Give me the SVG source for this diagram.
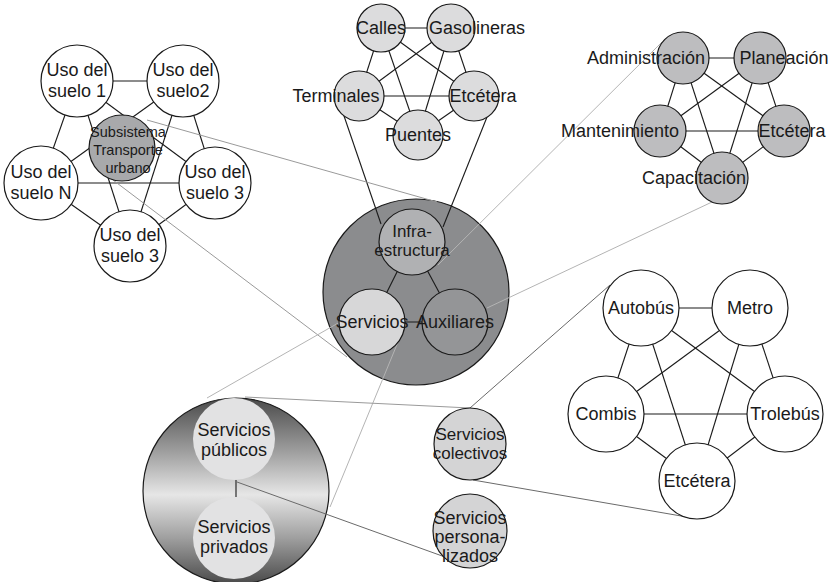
<svg xmlns="http://www.w3.org/2000/svg" width="829" height="582" viewBox="0 0 829 582">
<defs>
<linearGradient id="gv" x1="0" y1="0" x2="0" y2="1">
<stop offset="0" stop-color="#4a4a4a"/>
<stop offset="0.3" stop-color="#a2a2a2"/>
<stop offset="0.52" stop-color="#e6e6e6"/>
<stop offset="0.75" stop-color="#a0a0a0"/>
<stop offset="1" stop-color="#4a4a4a"/>
</linearGradient>
</defs>
<style>
.n{stroke:#1a1a1a;stroke-width:1.2}
.w{fill:#fff}
.g1{fill:#dcdcdd}
.g2{fill:#bdbdbf}
.g3{fill:#a8a9ab}
.g4{fill:#d4d4d5}
.e{stroke:#1a1a1a;stroke-width:1.1;fill:none}
.c1{stroke:#9a9a9a;stroke-width:1;fill:none}
.c2{stroke:#b4b4b4;stroke-width:1;fill:none}
.c3{stroke:#6a6a6a;stroke-width:1;fill:none}
text{font-family:"Liberation Sans",Arial,sans-serif;font-size:18px;fill:#1a1a1a;text-anchor:middle}
.s{font-size:17px}
.t{font-size:14.5px}
</style>
<rect width="829" height="582" fill="#fff"/>

<g id="containers">
<circle cx="416" cy="292" r="93" fill="#8b8c8e" class="n"/>
<circle cx="236" cy="491" r="93" fill="url(#gv)" class="n"/>
</g>

<g id="connectors">
<line class="e" x1="77" y1="81" x2="183" y2="81"/>
<line class="e" x1="77" y1="81" x2="41" y2="183"/>
<line class="e" x1="77" y1="81" x2="215" y2="183"/>
<line class="e" x1="77" y1="81" x2="130" y2="246"/>
<line class="e" x1="183" y1="81" x2="41" y2="183"/>
<line class="e" x1="183" y1="81" x2="215" y2="183"/>
<line class="e" x1="183" y1="81" x2="130" y2="246"/>
<line class="e" x1="41" y1="183" x2="215" y2="183"/>
<line class="e" x1="41" y1="183" x2="130" y2="246"/>
<line class="e" x1="215" y1="183" x2="130" y2="246"/>
<line class="e" x1="381" y1="28" x2="451" y2="28"/>
<line class="e" x1="381" y1="28" x2="359" y2="96"/>
<line class="e" x1="381" y1="28" x2="474" y2="96"/>
<line class="e" x1="381" y1="28" x2="418" y2="135"/>
<line class="e" x1="451" y1="28" x2="359" y2="96"/>
<line class="e" x1="451" y1="28" x2="474" y2="96"/>
<line class="e" x1="451" y1="28" x2="418" y2="135"/>
<line class="e" x1="359" y1="96" x2="474" y2="96"/>
<line class="e" x1="359" y1="96" x2="418" y2="135"/>
<line class="e" x1="474" y1="96" x2="418" y2="135"/>
<line class="e" x1="343" y1="113" x2="381" y2="224"/>
<line class="e" x1="489" y1="112" x2="443" y2="227"/>
<line class="e" x1="683" y1="58" x2="760" y2="58"/>
<line class="e" x1="683" y1="58" x2="660" y2="131"/>
<line class="e" x1="683" y1="58" x2="784" y2="131"/>
<line class="e" x1="683" y1="58" x2="722" y2="178"/>
<line class="e" x1="760" y1="58" x2="660" y2="131"/>
<line class="e" x1="760" y1="58" x2="784" y2="131"/>
<line class="e" x1="760" y1="58" x2="722" y2="178"/>
<line class="e" x1="660" y1="131" x2="784" y2="131"/>
<line class="e" x1="660" y1="131" x2="722" y2="178"/>
<line class="e" x1="784" y1="131" x2="722" y2="178"/>
<line class="e" x1="412" y1="242" x2="372" y2="322"/>
<line class="e" x1="412" y1="242" x2="455" y2="322"/>
<line class="e" x1="372" y1="322" x2="455" y2="322"/>
<line class="e" x1="641" y1="308" x2="750" y2="308"/>
<line class="e" x1="641" y1="308" x2="606" y2="414"/>
<line class="e" x1="641" y1="308" x2="785" y2="414"/>
<line class="e" x1="641" y1="308" x2="697" y2="481"/>
<line class="e" x1="750" y1="308" x2="606" y2="414"/>
<line class="e" x1="750" y1="308" x2="785" y2="414"/>
<line class="e" x1="750" y1="308" x2="697" y2="481"/>
<line class="e" x1="606" y1="414" x2="785" y2="414"/>
<line class="e" x1="606" y1="414" x2="697" y2="481"/>
<line class="e" x1="785" y1="414" x2="697" y2="481"/>
<line class="e" x1="236" y1="480" x2="236" y2="497"/>
<line class="c1" x1="147" y1="120" x2="437" y2="202"/>
<line class="c1" x1="113" y1="180" x2="347" y2="357"/>
<line class="c2" x1="438" y1="265" x2="662" y2="42"/>
<line class="c2" x1="487" y1="308" x2="712" y2="202"/>
<line class="c2" x1="340" y1="322" x2="207" y2="398"/>
<line class="c2" x1="398" y1="342" x2="330" y2="507"/>
<line class="c3" x1="470" y1="408" x2="610" y2="285"/>
<line class="c1" x1="245" y1="397" x2="470" y2="408"/>
<line class="c3" x1="237" y1="482" x2="445" y2="557"/>
<line class="c3" x1="473" y1="480" x2="687" y2="517"/>
</g>

<g id="uso-suelo-1"><circle class="n w" cx="77" cy="81" r="36"/><text x="77" y="76">Uso del</text><text x="77" y="97">suelo 1</text></g>
<g id="uso-suelo-2"><circle class="n w" cx="183" cy="81" r="36"/><text x="183" y="76">Uso del</text><text x="183" y="97">suelo2</text></g>
<g id="uso-suelo-n"><circle class="n w" cx="41" cy="183" r="37"/><text x="41" y="178">Uso del</text><text x="41" y="199">suelo N</text></g>
<g id="uso-suelo-3a"><circle class="n w" cx="215" cy="183" r="36"/><text x="215" y="178">Uso del</text><text x="215" y="199">suelo 3</text></g>
<g id="uso-suelo-3b"><circle class="n w" cx="130" cy="246" r="36"/><text x="130" y="241">Uso del</text><text x="130" y="262">suelo 3</text></g>
<g id="subsistema"><circle class="n g3" cx="122" cy="148" r="33"/><text class="t" x="128" y="137">Subsistema</text><text class="t" x="128" y="155">Transporte</text><text class="t" x="128" y="173">urbano</text></g>

<g id="calles"><circle class="n g1" cx="381" cy="28" r="24"/><text x="381" y="34">Calles</text></g>
<g id="gasolineras"><circle class="n g1" cx="451" cy="28" r="24"/><text x="477" y="34">Gasolineras</text></g>
<g id="terminales"><circle class="n g1" cx="359" cy="96" r="25"/><text x="336" y="102">Terminales</text></g>
<g id="etcetera-infra"><circle class="n g1" cx="474" cy="96" r="25"/><text x="483" y="102">Etcétera</text></g>
<g id="puentes"><circle class="n g1" cx="418" cy="135" r="25"/><text x="418" y="141">Puentes</text></g>

<g id="administracion"><circle class="n g2" cx="683" cy="58" r="26"/><text x="646" y="64">Administración</text></g>
<g id="planeacion"><circle class="n g2" cx="760" cy="58" r="26"/><text x="784" y="64">Planeación</text></g>
<g id="mantenimiento"><circle class="n g2" cx="660" cy="131" r="26"/><text x="620" y="137">Mantenimiento</text></g>
<g id="etcetera-aux"><circle class="n g2" cx="784" cy="131" r="26"/><text x="792" y="137">Etcétera</text></g>
<g id="capacitacion"><circle class="n g2" cx="722" cy="178" r="26"/><text x="694" y="184">Capacitación</text></g>

<g id="infraestructura"><circle class="n" fill="#b0b1b3" cx="412" cy="242" r="33"/><text class="s" x="412" y="237">Infra-</text><text class="s" x="412" y="256">estructura</text></g>
<g id="servicios"><circle class="n" fill="#d7d7d8" cx="372" cy="322" r="33"/><text x="372" y="328">Servicios</text></g>
<g id="auxiliares"><circle class="n" fill="#949597" cx="455" cy="322" r="33"/><text x="455" y="328">Auxiliares</text></g>

<g id="servicios-publicos"><circle fill="#e2e2e3" cx="234" cy="439" r="41"/><text x="234" y="436">Servicios</text><text x="234" y="456">públicos</text></g>
<g id="servicios-privados"><circle fill="#e2e2e3" cx="234" cy="538" r="41"/><text x="234" y="533">Servicios</text><text x="234" y="553">privados</text></g>

<g id="servicios-colectivos"><circle class="n g4" cx="470" cy="444" r="36"/><text class="s" x="470" y="440">Servicios</text><text class="s" x="470" y="459">colectivos</text></g>
<g id="servicios-personalizados"><circle class="n g4" cx="470" cy="531" r="37"/><text x="470" y="524" font-size="15">Servicios</text><text x="470" y="543" font-size="15">persona-</text><text x="470" y="562" font-size="15">lizados</text></g>

<g id="autobus"><circle class="n w" cx="641" cy="308" r="38"/><text x="641" y="314">Autobús</text></g>
<g id="metro"><circle class="n w" cx="750" cy="308" r="38"/><text x="750" y="314">Metro</text></g>
<g id="combis"><circle class="n w" cx="606" cy="414" r="38"/><text x="606" y="420">Combis</text></g>
<g id="trolebus"><circle class="n w" cx="785" cy="414" r="38"/><text x="785" y="420">Trolebús</text></g>
<g id="etcetera-transp"><circle class="n w" cx="697" cy="481" r="38"/><text x="697" y="487">Etcétera</text></g>
</svg>
